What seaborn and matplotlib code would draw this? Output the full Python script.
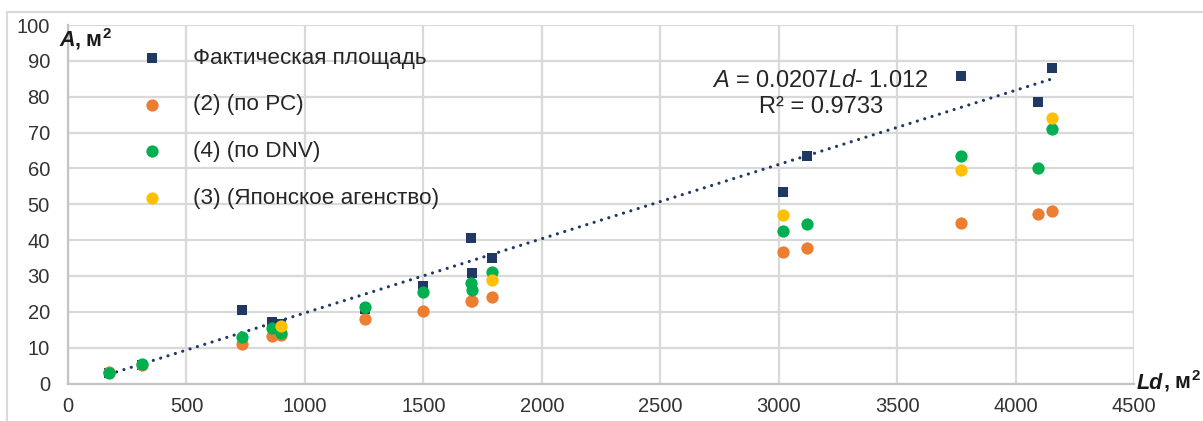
import numpy as np
import pandas as pd
import matplotlib
matplotlib.use("Agg")
import matplotlib.pyplot as plt
from matplotlib.lines import Line2D
from matplotlib.transforms import offset_copy
import seaborn as sns

# Ship data: design parameter Ld (m²) and rudder area A (m²) by method
ld = [174, 311, 733, 860, 900, 1254, 1500, 1700, 1706, 1788, 3020, 3118, 3768, 4093, 4152]
actual_area = [3.0, 5.2, 20.5, 17.2, 16.6, 20.8, 27.2, 40.7, 30.9, 34.9, 53.4, 63.4, 85.9, 78.5, 88.1]
rs_area = [3.3, 5.2, 11.0, 13.2, 13.6, 17.9, 20.2, 23.0, 23.1, 24.0, 36.7, 37.9, 44.8, 47.4, 48.1]
dnv_area = [3.0, 5.3, 13.0, 15.4, 14.0, 21.4, 25.6, 28.1, 26.0, 31.0, 42.6, 44.4, 63.4, 60.1, 70.9]
jp_area = [np.nan, np.nan, np.nan, np.nan, 16.0, np.nan, np.nan, np.nan, np.nan, 29.0,
           46.9, np.nan, 59.5, np.nan, 74.0]

series_labels = ["Фактическая площадь", "(2) (по РС)", "(4) (по DNV)", "(3) (Японское агенство)"]
series_colors = ["#1f3864", "#ed7d31", "#00b050", "#ffc000"]

# Linear trend of the actual area, as stated in the equation label
slope, intercept, r2 = 0.0207, -1.012, 0.9733

x_ticks = [0, 500, 1000, 1500, 2000, 2500, 3000, 3500, 4000, 4500]
y_ticks = [0, 10, 20, 30, 40, 50, 60, 70, 80, 90, 100]

sns.set_theme(style="white")
plt.rcParams["font.family"] = ["Liberation Sans", "DejaVu Sans"]
plt.rcParams["mathtext.fontset"] = "custom"
plt.rcParams["mathtext.rm"] = "Liberation Sans"
plt.rcParams["mathtext.it"] = "Liberation Sans:italic"
plt.rcParams["mathtext.bf"] = "Liberation Sans:bold"

W, H = 1203, 421
fig = plt.figure(figsize=(W / 100, H / 100), dpi=100)
ax = fig.add_axes([68 / W, 1 - 383.5 / H, (1134 - 68) / W, (383.5 - 25) / H])

df = pd.DataFrame({"Ld": ld, "actual": actual_area, "rs": rs_area, "dnv": dnv_area, "jp": jp_area})

grid_c = "#d9d9d9"
ax.set_axisbelow(True)
ax.grid(True, color=grid_c, linewidth=1.6)

# trend line over the range of the data
tx = np.array([min(ld), max(ld)])
sns.lineplot(x=tx, y=slope * tx + intercept, ax=ax, color="#1f3864", linewidth=2.3,
             linestyle=(0, (0.01, 2.4)), dash_capstyle="round", legend=False, zorder=2)

sns.scatterplot(data=df, x="Ld", y="actual", ax=ax, marker="s", s=50, color=series_colors[0],
                edgecolor=series_colors[0], linewidth=0, label=series_labels[0], zorder=3)
sns.scatterplot(data=df, x="Ld", y="rs", ax=ax, marker="o", s=78, color=series_colors[1],
                linewidth=0, label=series_labels[1], zorder=4)
sns.scatterplot(data=df, x="Ld", y="dnv", ax=ax, marker="o", s=78, color=series_colors[2],
                linewidth=0, label=series_labels[2], zorder=5)
sns.scatterplot(data=df.dropna(subset=["jp"]), x="Ld", y="jp", ax=ax, marker="o", s=78,
                color=series_colors[3], linewidth=0, label=series_labels[3], zorder=6)

ax.set_xlim(0, 4500)
ax.set_ylim(0, 100)
ax.set_xticks(x_ticks)
ax.set_yticks(y_ticks)
ax.set_xlabel("")
ax.set_ylabel("")
ax.tick_params(axis="both", length=0, labelsize=14.5, colors="#333333")
ax.tick_params(axis="x", pad=10)
ax.tick_params(axis="y", pad=13)

for side in ["top", "right"]:
    ax.spines[side].set_visible(False)
for side in ["left", "bottom"]:
    ax.spines[side].set_color("#c4c4c4")
    ax.spines[side].set_linewidth(1.6)

leg = ax.legend(loc="upper left", bbox_to_anchor=(0.06, 0.937), frameon=False,
                fontsize=16.2, labelspacing=1.15, handlelength=1.8, handletextpad=0.9,
                borderaxespad=0, borderpad=0)
for t in leg.get_texts():
    t.set_color("#262626")

# regression equation
ax.text(820 / W, 1 - 87 / H, r"$\mathit{A}$ = 0.0207$\mathit{Ld}$- 1.012", transform=fig.transFigure,
        ha="center", va="baseline", fontsize=17, color="#262626")
ax.text(821 / W, 1 - 113 / H, f"R² = {r2}", transform=fig.transFigure,
        ha="center", va="baseline", fontsize=17, color="#262626")

# axis titles: italic symbol followed by the unit
fig.canvas.draw()
renderer = fig.canvas.get_renderer()


def axis_title(x_px, y_px, symbol):
    t1 = fig.text(x_px / W, 1 - y_px / H, symbol, fontsize=15.5, fontweight="bold",
                  fontstyle="italic", color="#1a1a1a", va="baseline")
    w = t1.get_window_extent(renderer).width
    fig.text(x_px / W, 1 - y_px / H, r", м$^{\mathbf{2}}$", fontsize=15.5, fontweight="bold",
             color="#1a1a1a", va="baseline",
             transform=offset_copy(fig.transFigure, fig=fig, x=w * 72 / fig.dpi - 0.5, units="points"))


axis_title(59, 46, "A")
axis_title(1137, 389, "Ld")

# chart area border
fig.add_artist(Line2D([7 / W, 1], [1 - 12 / H, 1 - 12 / H], color=grid_c, linewidth=1.5))
fig.add_artist(Line2D([7 / W, 7 / W], [0, 1 - 12 / H], color=grid_c, linewidth=1.5))

fig.savefig("out.png", dpi=100, facecolor="white")
